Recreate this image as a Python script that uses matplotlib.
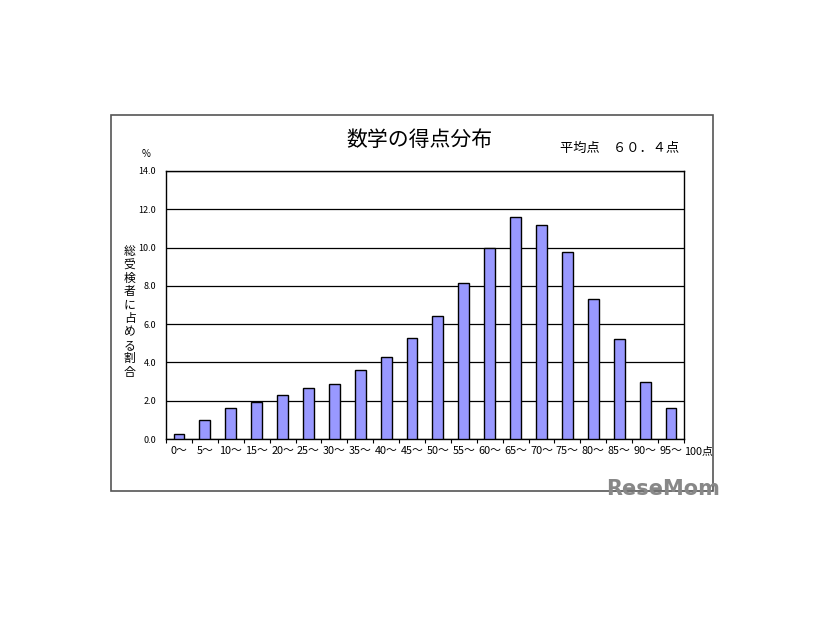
import matplotlib.pyplot as plt
from matplotlib.patches import Rectangle
import numpy as np

plt.rcParams['font.family'] = ['Noto Sans CJK JP', 'DejaVu Sans']

# Data
bins = ['0～', '5～', '10～', '15～', '20～', '25～', '30～', '35～', '40～', '45～',
        '50～', '55～', '60～', '65～', '70～', '75～', '80～', '85～', '90～', '95～']
percent = [0.25, 1.0, 1.6, 1.95, 2.3, 2.65, 2.85, 3.6, 4.3, 5.3,
           6.4, 8.15, 10.0, 11.6, 11.2, 9.75, 7.3, 5.25, 3.0, 1.6]
yticks = [0, 2, 4, 6, 8, 10, 12, 14]

fig = plt.figure(figsize=(8.26, 6.2), dpi=100)

# outer frame of the chart
fig.patches.append(Rectangle((0.1344, 0.2081), 0.7288, 0.6065, transform=fig.transFigure,
                             fill=False, edgecolor='#555555', linewidth=1.2))

ax = fig.add_axes([0.201, 0.2919, 0.627, 0.4323])
x = np.arange(len(bins))
ax.bar(x, percent, width=0.42, color='#9999FF', edgecolor='black', linewidth=1.0, zorder=3)

ax.set_xlim(-0.5, len(bins) - 0.5)
ax.set_ylim(0, 14)
ax.set_yticks(yticks)
ax.set_yticklabels([f'{v:.1f}' for v in yticks], fontsize=6.5)
ax.tick_params(axis='y', length=0, pad=7)
ax.grid(axis='y', color='black', linewidth=0.9, zorder=0)

ax.set_xticks(x)
ax.set_xticklabels(bins, fontsize=7.8)
ax.tick_params(axis='x', length=0, pad=5)
ax.set_xticks(np.arange(-0.5, len(bins)), minor=True)
ax.tick_params(axis='x', which='minor', length=3, direction='out', width=0.8)

for s in ax.spines.values():
    s.set_linewidth(1.0)
    s.set_color('black')

# texts
fig.text(0.508, 0.775, '数学の得点分布', fontsize=15, ha='center', va='center')
fig.text(0.75, 0.761, '平均点　６０．４点', fontsize=9.5, ha='center', va='center')
fig.text(0.177, 0.752, '%', fontsize=7, ha='center', va='center')
fig.text(0.8285, 0.2705, '100点', fontsize=7.8, ha='left', va='center')
fig.text(0.157, 0.497, '\n'.join('総受検者に占める割合'), fontsize=8.5,
         ha='center', va='center', linespacing=1.04)

# watermark
fig.text(0.872, 0.212, 'ReseMom', fontsize=15, fontweight='bold', color='#888888',
         ha='right', va='center', family='DejaVu Sans')

fig.savefig('out.png', dpi=100)
